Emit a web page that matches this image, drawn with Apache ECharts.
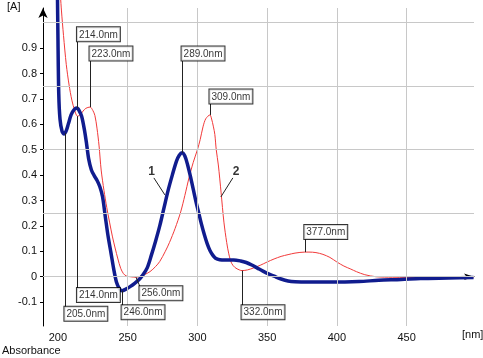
<!DOCTYPE html>
<html>
<head>
<meta charset="utf-8">
<script src="https://cdn.jsdelivr.net/npm/echarts@6/dist/echarts.min.js"></script>
<style>
html, body { margin: 0; padding: 0; background: #fff; }
#chart { width: 483px; height: 358px; }
</style>
</head>
<body>
<div id="chart"></div>
<script>
// curve 1 (blue, thick)
const wl1 = [199.6, 200.0, 200.6, 201.5, 203.0, 204.5, 206.0, 207.5, 209.5, 211.5, 213.5, 214.0, 215.0, 217.0, 219.0, 220.5, 222.0, 224.0, 226.0, 228.0, 230.0, 232.0, 234.0, 236.0, 238.0, 240.0, 242.0, 244.0, 246.0, 249.0, 252.0, 255.0, 258.0, 261.0, 264.0, 267.0, 270.0, 273.0, 276.0, 279.0, 282.0, 285.0, 287.0, 289.0, 291.0, 293.0, 295.0, 297.0, 299.0, 301.0, 303.0, 305.0, 307.0, 309.0, 311.0, 313.0, 316.0, 320.0, 326.0, 331.0, 335.0, 339.0, 343.0, 347.0, 351.0, 355.0, 360.0, 365.0, 370.0, 380.0, 395.0, 416.0, 430.0, 446.0, 460.0, 480.0, 498.0]
const abs1 = [1.14, 0.95, 0.72, 0.62, 0.572, 0.562, 0.575, 0.602, 0.638, 0.657, 0.664, 0.663, 0.656, 0.632, 0.578, 0.525, 0.465, 0.42, 0.398, 0.38, 0.355, 0.315, 0.235, 0.158, 0.095, 0.03, -0.022, -0.046, -0.055, -0.048, -0.038, -0.026, -0.012, 0.008, 0.035, 0.085, 0.14, 0.2, 0.27, 0.34, 0.4, 0.455, 0.478, 0.488, 0.475, 0.44, 0.395, 0.345, 0.295, 0.25, 0.205, 0.165, 0.13, 0.103, 0.085, 0.073, 0.067, 0.066, 0.066, 0.062, 0.056, 0.046, 0.034, 0.022, 0.011, 0.002, -0.009, -0.017, -0.02, -0.021, -0.021, -0.019, -0.014, -0.011, -0.007, -0.005, -0.003]

// curve 2 (red, thin)
const wl2 = [201.4, 202.5, 204.0, 206.0, 208.0, 210.0, 212.0, 214.0, 216.0, 218.0, 220.0, 223.0, 225.0, 226.5, 228.0, 229.5, 231.0, 233.0, 235.0, 237.0, 239.0, 241.0, 243.0, 245.0, 247.0, 249.0, 252.0, 256.0, 259.0, 262.0, 266.0, 270.0, 273.0, 277.0, 280.0, 284.0, 288.0, 291.0, 294.0, 297.0, 300.0, 302.0, 304.0, 306.0, 309.0, 310.0, 311.5, 312.5, 313.5, 315.0, 317.0, 319.0, 321.0, 322.5, 324.5, 327.0, 330.0, 332.0, 336.0, 340.0, 345.0, 350.0, 355.0, 360.0, 365.0, 370.0, 377.0, 380.0, 385.0, 390.0, 395.0, 400.0, 405.0, 410.0, 414.0, 420.0, 428.0, 440.0, 460.0, 480.0, 498.0]
const abs2 = [1.14, 1.05, 0.95, 0.835, 0.755, 0.695, 0.655, 0.632, 0.638, 0.652, 0.663, 0.668, 0.655, 0.635, 0.585, 0.515, 0.42, 0.34, 0.273, 0.215, 0.16, 0.113, 0.07, 0.033, 0.012, 0.003, 0, -0.002, 0.002, 0.008, 0.02, 0.04, 0.06, 0.1, 0.135, 0.19, 0.255, 0.32, 0.39, 0.45, 0.5, 0.54, 0.59, 0.622, 0.637, 0.625, 0.59, 0.56, 0.5, 0.44, 0.33, 0.215, 0.135, 0.09, 0.053, 0.036, 0.027, 0.024, 0.027, 0.034, 0.045, 0.058, 0.07, 0.08, 0.087, 0.093, 0.097, 0.097, 0.095, 0.088, 0.076, 0.058, 0.042, 0.03, 0.02, 0.008, 0, -0.002, -0.003, -0.003, -0.002]

const xTicks = [200, 250, 300, 350, 400, 450]
const yTicks = [-0.1, 0, 0.1, 0.2, 0.3, 0.4, 0.5, 0.6, 0.7, 0.8, 0.9]
const xGrid = [250, 300, 350, 400, 450]
const yGrid = [0, 0.25, 0.5, 0.75, 1]

// marked extrema (wavelength, which curve)
const markWl = [214, 223, 289, 309, 377, 214, 205, 246, 256, 332]
const markCurve = [1, 2, 1, 2, 2, 2, 1, 1, 2, 2]

// where each callout box sits (label y in absorbance units, box above or below the point)
const calloutY = [0.925, 0.849, 0.849, 0.68, 0.147, -0.046, -0.12, -0.114, -0.039, -0.114]
const calloutDx = [0, 0, 0, 0, 0, 0, 0, 0, 2.8, 0]
const calloutSide = ['top', 'top', 'top', 'top', 'top', 'bottom', 'bottom', 'bottom', 'bottom', 'bottom']

// curve numbers and their leaders
const curveTags = [
  { name: '1', pos: [267.2, 0.413], from: [268.8, 0.389], to: [276.7, 0.322] },
  { name: '2', pos: [327.8, 0.413], from: [325.4, 0.389], to: [316.8, 0.314] }
]

const font = 'Liberation Sans'
const curves = { 1: [wl1, abs1], 2: [wl2, abs2] }

function pairs (xs, ys) {
  return xs.map((x, i) => [x, ys[i]])
}

function valueAt (xs, ys, x) {
  for (let i = 0; i < xs.length - 1; i++) {
    if (x >= xs[i] && x <= xs[i + 1]) {
      const t = (x - xs[i]) / (xs[i + 1] - xs[i])
      return ys[i] + t * (ys[i + 1] - ys[i])
    }
  }
  return 0
}

const leaderLines = []
const boxes = []
markWl.forEach((nm, i) => {
  const c = curves[markCurve[i]]
  const y0 = valueAt(c[0], c[1], nm)
  const lx = nm + calloutDx[i]
  leaderLines.push([{ coord: [nm, y0] }, { coord: [lx, calloutY[i]] }])
  boxes.push({
    name: nm.toFixed(1) + 'nm',
    value: [lx, calloutY[i]],
    label: { verticalAlign: calloutSide[i] === 'top' ? 'bottom' : 'top' }
  })
})
curveTags.forEach(t => {
  leaderLines.push([{ coord: t.from }, { coord: t.to }])
})

const chart = echarts.init(document.getElementById('chart'))

const option = {
  animation: false,
  backgroundColor: '#fff',
  grid: { left: 43, right: 9, top: 8, bottom: 32 },
  xAxis: {
    type: 'value',
    min: 189.3,
    max: 498.3,
    axisLine: {
      show: true,
      symbol: ['none', 'arrow'],
      symbolSize: [5, 10],
      lineStyle: { color: '#000', width: 1 }
    },
    axisTick: { show: false },
    splitLine: { show: false },
    axisLabel: {
      customValues: xTicks,
      margin: 6,
      color: '#111',
      fontSize: 11,
      fontFamily: font
    }
  },
  yAxis: {
    type: 'value',
    min: -0.194,
    max: 1.058,
    axisLine: {
      show: true,
      symbol: ['none', 'arrow'],
      symbolSize: [7, 10],
      lineStyle: { color: '#000', width: 1 }
    },
    axisTick: { show: true, length: 3, customValues: yTicks, lineStyle: { color: '#000' } },
    splitLine: { show: false },
    axisLabel: {
      customValues: yTicks,
      margin: 6,
      color: '#111',
      fontSize: 11,
      fontFamily: font,
      formatter: v => (Math.abs(v) < 1e-9 ? '0' : v.toFixed(1))
    }
  },
  graphic: [
    { type: 'text', left: 7, top: 1, style: { text: '[A]', fill: '#111', font: '11px ' + font } },
    { type: 'text', left: 462, top: 329, style: { text: '[nm]', fill: '#111', font: '11px ' + font } },
    { type: 'text', left: 2, top: 345, style: { text: 'Absorbance', fill: '#111', font: '11px ' + font } }
  ],
  series: [
    {
      type: 'line',
      data: [],
      z: 1,
      silent: true,
      markLine: {
        silent: true,
        symbol: 'none',
        label: { show: false },
        lineStyle: { color: '#c8c8c8', width: 1, type: 'solid' },
        data: xGrid.map(v => ({ xAxis: v })).concat(yGrid.map(v => ({ yAxis: v })))
      }
    },
    {
      name: '2',
      type: 'line',
      data: pairs(wl2, abs2),
      symbol: 'none',
      smooth: 0.3,
      clip: false,
      z: 2,
      lineStyle: { color: '#f23a3a', width: 1 }
    },
    {
      name: '1',
      type: 'line',
      data: pairs(wl1, abs1),
      symbol: 'none',
      smooth: 0.3,
      clip: false,
      z: 3,
      lineStyle: { color: '#101c8e', width: 3.5 }
    },
    {
      type: 'scatter',
      data: [],
      z: 4,
      silent: true,
      markLine: {
        silent: true,
        symbol: 'none',
        label: { show: false },
        lineStyle: { color: '#222', width: 1, type: 'solid' },
        data: leaderLines
      }
    },
    {
      type: 'scatter',
      data: boxes,
      z: 5,
      silent: true,
      symbolSize: 1,
      itemStyle: { color: 'rgba(0,0,0,0)' },
      label: {
        show: true,
        position: [0, 0],
        align: 'left',
        formatter: '{b}',
        color: '#000',
        fontSize: 10,
        fontFamily: font,
        lineHeight: 11,
        backgroundColor: '#fff',
        borderColor: '#000',
        borderWidth: 1,
        padding: [2, 2, 1, 2]
      }
    },
    {
      type: 'scatter',
      data: curveTags.map(t => ({ name: t.name, value: t.pos })),
      z: 5,
      silent: true,
      symbolSize: 1,
      itemStyle: { color: 'rgba(0,0,0,0)' },
      label: {
        show: true,
        position: 'inside',
        formatter: '{b}',
        color: '#000',
        fontSize: 12,
        fontWeight: 'bold',
        fontFamily: font
      }
    }
  ]
}

chart.setOption(option)
</script>
</body>
</html>
